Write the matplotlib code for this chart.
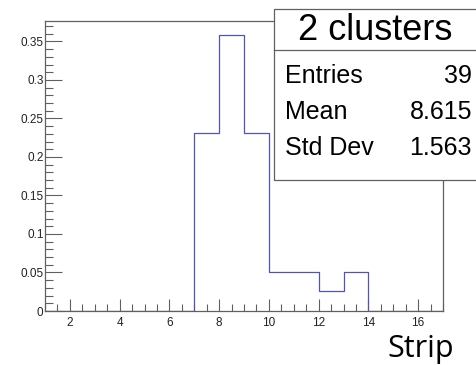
import matplotlib
matplotlib.use("Agg")
import matplotlib.pyplot as plt
import numpy as np
from matplotlib.ticker import MultipleLocator
from matplotlib.patches import Rectangle

# histogram data (normalised counts per strip bin)
bin_edges = np.arange(1, 18)
counts = [0, 0, 0, 0, 0, 0, 9, 14, 9, 2, 2, 1, 2, 0, 0, 0]
n_entries = 39
values = [c / n_entries for c in counts]

stat_title = "2 clusters"
stat_names = ["Entries", "Mean", "Std Dev"]
stat_values = ["39", "8.615", "1.563"]

plt.rcParams["font.family"] = ["Liberation Sans", "DejaVu Sans"]

W, H = 476, 365
fig = plt.figure(figsize=(W / 100, H / 100), dpi=100)
ax = fig.add_axes([45 / W, 1 - 311 / H, (443 - 45) / W, (311 - 20.7) / H])

line_col = "#5656a0"
axis_col = "#606060"

# step outline like a ROOT histogram
xs = np.repeat(bin_edges, 2)[1:-1]
ys = np.repeat(values, 2)
ax.plot(xs, ys, color=line_col, lw=0.9)

ax.set_xlim(1, 17)
ax.set_ylim(0, max(values) * 1.05)

ax.xaxis.set_major_locator(MultipleLocator(2))
ax.xaxis.set_minor_locator(MultipleLocator(0.5))
ax.yaxis.set_major_locator(MultipleLocator(0.05))
ax.yaxis.set_minor_locator(MultipleLocator(0.01))
ax.tick_params(axis="both", which="both", direction="in", colors=axis_col,
               labelcolor="#222222", labelsize=8.5, width=0.8)
ax.tick_params(axis="x", which="major", length=9, pad=4)
ax.tick_params(axis="x", which="minor", length=5)
ax.tick_params(axis="y", which="major", length=12, pad=1)
ax.tick_params(axis="y", which="minor", length=6)
ax.set_xticks([2, 4, 6, 8, 10, 12, 14, 16])
ax.set_yticks([0, 0.05, 0.1, 0.15, 0.2, 0.25, 0.3, 0.35])
ax.set_yticklabels(["0", "0.05", "0.1", "0.15", "0.2", "0.25", "0.3", "0.35"])
for s in ax.spines.values():
    s.set_color(axis_col)
    s.set_linewidth(0.9)

# stats box
def fx(px):
    return px / W

def fy(py):
    return 1 - py / H

box = Rectangle((fx(274), fy(180)), fx(476.5) - fx(274), fy(9) - fy(180),
                transform=fig.transFigure, facecolor="white",
                edgecolor=axis_col, lw=0.9, zorder=5)
fig.patches.append(box)
fig.add_artist(plt.Line2D([fx(274), fx(476.5)], [fy(50), fy(50)],
                          transform=fig.transFigure, color=axis_col, lw=0.9, zorder=6))
fig.text(fx(375), fy(31), stat_title, ha="center", va="center", fontsize=26, zorder=7)
row_y = [76, 112, 148]
for name, val, y in zip(stat_names, stat_values, row_y):
    fig.text(fx(285), fy(y), name, ha="left", va="center", fontsize=18, zorder=7)
    fig.text(fx(472), fy(y), val, ha="right", va="center", fontsize=18, zorder=7)

# axis title
fig.text(fx(421), fy(357), "Strip", ha="center", va="baseline", fontsize=22,
         family="Open Sans")

fig.savefig("out.png", dpi=100)
